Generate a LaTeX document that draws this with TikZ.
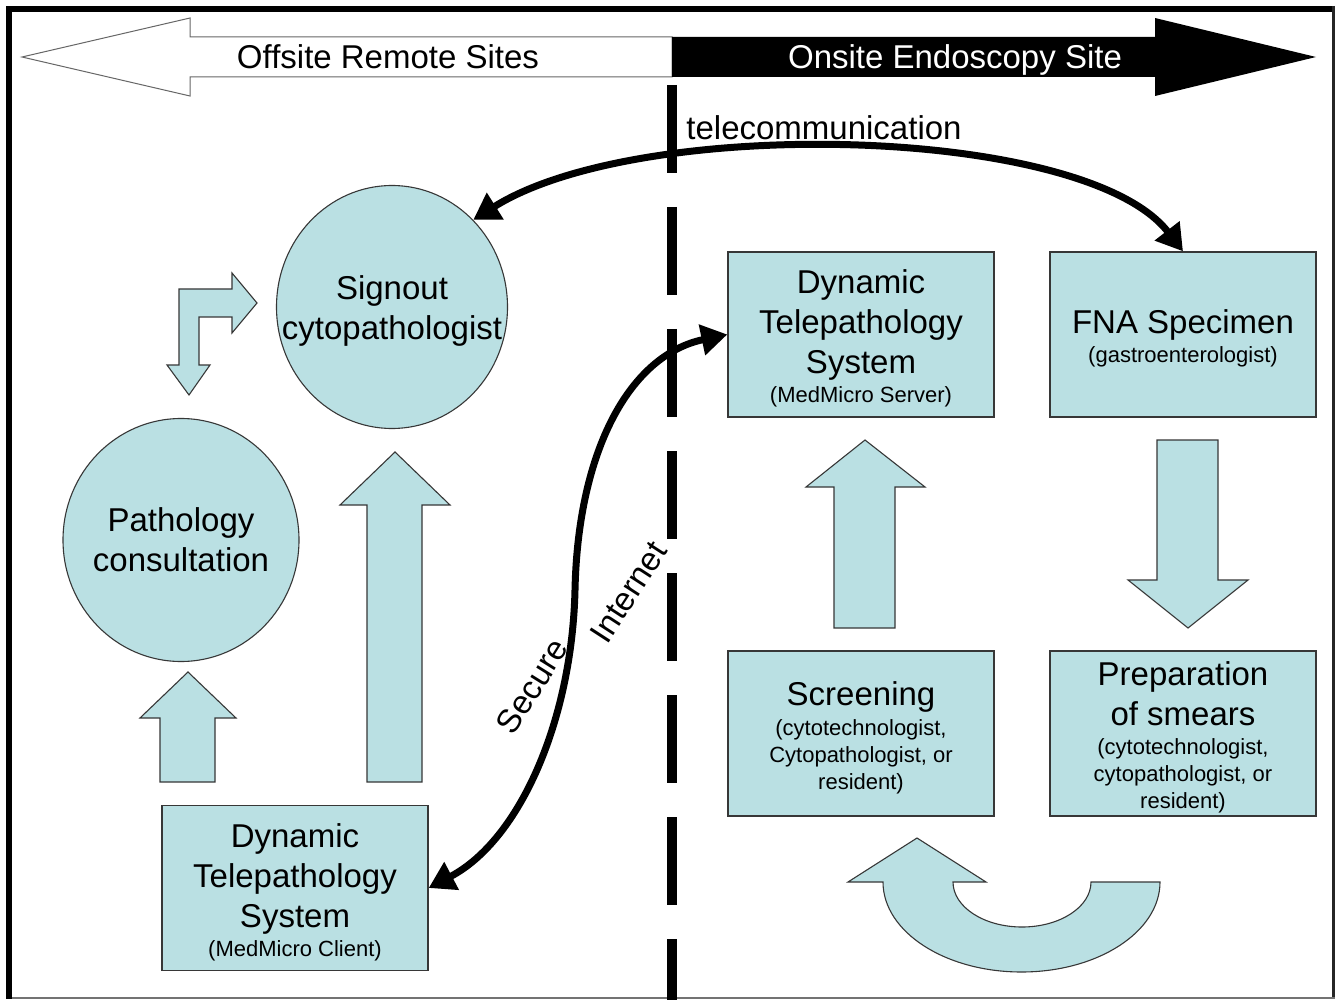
\documentclass[tikz,border=0pt]{standalone}
\usepackage{fontspec}
\setmainfont{Liberation Sans}
\usetikzlibrary{arrows.meta,shapes.geometric}
\definecolor{panel}{RGB}{186,224,227}
\definecolor{edge}{RGB}{55,55,55}
\newcommand\bigtxt{\fontsize{33}{40}\selectfont}
\newcommand\smalltxt{\fontsize{22}{27}\selectfont}
% extra room above the first line of a card
\newcommand\topgap{\rule{0pt}{32pt}}

\begin{document}
\begin{tikzpicture}[x=1pt,y=-1pt,
  card/.style={draw=edge,line width=1.3pt,fill=panel,minimum width=266pt,
    minimum height=165pt,inner sep=0pt,align=center,font=\bigtxt},
  disc/.style={ellipse,draw=edge,line width=1.1pt,fill=panel,inner sep=0pt},
  caption/.style={align=center,font=\bigtxt,inner sep=0pt},
  block/.style={draw=edge,line width=1.1pt,fill=panel,line join=miter},
  link/.style={line width=7pt,{Triangle[length=26pt,width=30pt]}-{Triangle[length=26pt,width=30pt]}},
  divider/.style={line width=10pt,dash pattern=on 88pt off 34pt}]
\useasboundingbox (0,0) rectangle (1336,1000);

% frame
\fill[white] (0,0) rectangle (1336,1000);
\fill[black] (6,6) rectangle (12,999);
\fill[black] (6,6) rectangle (1335,12);
\draw[line width=3pt,black!85] (1333.5,6) -- (1333.5,999);
\draw[line width=2pt,black!55] (12,998) -- (1335,998);

% site banner arrows
\draw[fill=white,draw=black!60,line width=1pt]
  (672,37) -- (190,37) -- (190,18) -- (22,57) -- (190,96) -- (190,77) -- (672,77) -- cycle;
\fill[black]
  (672,37) -- (1155,37) -- (1155,18) -- (1316,57) -- (1155,96) -- (1155,77) -- (672,77) -- cycle;
\node[font=\bigtxt,inner sep=0pt,anchor=base] (offsite) at (388,69) {Offsite Remote Sites};
\node[font=\bigtxt,inner sep=0pt,anchor=base,text=white] (onsite) at (955,69) {Onsite Endoscopy Site};

% boundary between the two sites
\draw[divider] (672,85) -- (672,1000);

% offsite side
\node[disc,minimum width=231pt,minimum height=243pt] (sig) at (392,307) {};
\node[caption] (sigtext) at (392,311) {Signout\\cytopathologist};
\node[disc,minimum width=236pt,minimum height=243pt] (path) at (181,540) {};
\node[caption] (pathtext) at (path.center) {Pathology\\consultation};
\node[card] (cli) at (295,888)
  {\topgap Dynamic\\Telepathology\\System\\[-11pt]{\smalltxt (MedMicro Client)}};

% onsite side
\node[card] (srv) at (861,334.5)
  {\topgap Dynamic\\Telepathology\\System\\[-11pt]{\smalltxt (MedMicro Server)}};
\node[card] (fna) at (1183,334.5)
  {\topgap FNA Specimen\\[-11pt]{\smalltxt (gastroenterologist)}};
\node[card] (scr) at (861,733.5)
  {\topgap Screening\\[-10pt]{\smalltxt (cytotechnologist,}\\[-13pt]{\smalltxt Cytopathologist, or}\\[-13pt]{\smalltxt resident)}};
\node[card] (prep) at (1183,733.5)
  {\topgap Preparation\\of smears\\[-11pt]{\smalltxt (cytotechnologist,}\\[-13pt]{\smalltxt cytopathologist, or}\\[-13pt]{\smalltxt resident)}};

% block arrows
\draw[block] (179,365) -- (179,289) -- (232,289) -- (232,273) -- (257,303) -- (232,333)
  -- (232,317) -- (199,317) -- (199,365) -- (210,365) -- (189,395) -- (167,365) -- cycle;
\draw[block] (367,782) -- (367,505) -- (340,505) -- (395,452) -- (450,505) -- (422,505) -- (422,782) -- cycle;
\draw[block] (160,782) -- (160,718) -- (140,718) -- (188,672) -- (236,718) -- (215,718) -- (215,782) -- cycle;
\draw[block] (834,628) -- (834,487) -- (806,487) -- (865,440) -- (925,487) -- (895,487) -- (895,628) -- cycle;
\draw[block] (1157,440) -- (1218,440) -- (1218,580) -- (1248,580) -- (1188,628) -- (1128,580) -- (1157,580) -- cycle;
\draw[block] (1160,882) arc[start angle=0,end angle=180,x radius=138.5,y radius=90]
  -- (848,882) -- (917,838) -- (986,882) -- (953,882)
  arc[start angle=180,end angle=0,x radius=69,y radius=45] -- cycle;

% communication links
\draw[link] (sig.47) .. controls (640,115) and (1085,125) .. (fna.north);
\node[font=\bigtxt,inner sep=0pt] (telelabel) at (824,128) {telecommunication};
\draw[link] (cli.east) .. controls (520,840) and (572,720) .. (575,590)
  .. controls (578,450) and (630,355) .. (srv.west);
\node[font=\bigtxt,inner sep=0pt,rotate=58] (securelabel) at (532,686) {Secure};
\node[font=\bigtxt,inner sep=0pt,rotate=57] (netlabel) at (629,592) {Internet};
\end{tikzpicture}
\end{document}
